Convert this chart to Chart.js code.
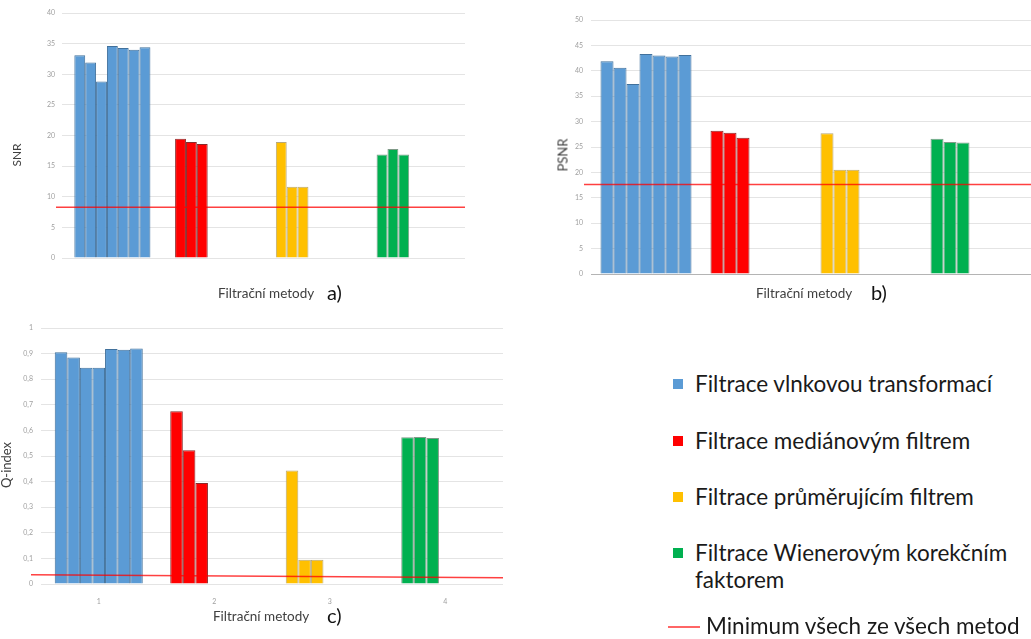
<!DOCTYPE html>
<html>
<head>
<meta charset="utf-8">
<script src="https://cdn.jsdelivr.net/npm/chart.js@4.4.1/dist/chart.umd.min.js"></script>
<style>
  body { margin: 0; background: #fff; font-family: Lato, sans-serif; }
  #page { position: relative; width: 1031px; height: 639px; overflow: hidden; }
  canvas { position: absolute; }
  .lbl { position: absolute; white-space: nowrap; color: #404040; font-size: 13px; line-height: 13px; }
  .xt { font-size: 13.5px; line-height: 14px; }
  .rot { transform: translate(-50%, -50%) rotate(-90deg); }
  .panel { position: absolute; font-size: 20px; line-height: 20px; color: #111; }
  .leg { position: absolute; left: 673px; font-size: 22.5px; line-height: 27px; color: #1a1a1a; }
  .leg i { position: absolute; left: 0; top: 9px; width: 10px; height: 10px; }
  .leg span { position: absolute; left: 22px; top: 0; width: 340px; white-space: normal; }
</style>
</head>
<body>
<div id="page">
  <canvas id="chA" width="480" height="310" style="left:0;top:0"></canvas>
  <canvas id="chB" width="511" height="310" style="left:520px;top:0"></canvas>
  <canvas id="chC" width="510" height="324" style="left:0;top:315px"></canvas>

  <div class="lbl rot" style="left:16px;top:155px;font-size:12px">SNR</div>
  <div class="lbl rot" style="left:563px;top:155px">PSNR</div>
  <div class="lbl rot" style="left:6px;top:465px">Q-index</div>

  <div class="lbl xt" style="left:218px;top:286px">Filtrační metody</div>
  <div class="lbl xt" style="left:756px;top:286px">Filtrační metody</div>
  <div class="lbl xt" style="left:213px;top:609px">Filtrační metody</div>
  <div class="panel" style="left:327px;top:282px">a)</div>
  <div class="panel" style="left:871px;top:282px">b)</div>
  <div class="panel" style="left:327px;top:605px">c)</div>

  <div id="legend"></div>
</div>
<script>
// kategorie (metody filtrace)
const categories = ['1', '2', '3', '4'];
const methods = [
  'Filtrace vlnkovou transformací',
  'Filtrace mediánovým filtrem',
  'Filtrace průměrujícím filtrem',
  'Filtrace Wienerovým korekčním faktorem'
];
const minLabel = 'Minimum všech ze všech metod';
const methodColors = ['#5b9bd5', '#ff0000', '#ffc000', '#00b050'];
const methodBorders = ['#41719c', '#8a2a2a', '#b8a878', '#7f9a88'];

// a) SNR
const snrWavelet = [33.1, 31.9, 28.8, 34.6, 34.3, 34.0, 34.4];
const snrMedian = [19.45, 18.95, 18.6];
const snrMean = [18.95, 11.65, 11.65];
const snrWiener = [16.9, 17.8, 16.9];
const snrMin = [8.3, 8.3];

// b) PSNR
const psnrWavelet = [41.9, 40.6, 37.4, 43.3, 43.0, 42.8, 43.1];
const psnrMedian = [28.2, 27.8, 26.8];
const psnrMean = [27.7, 20.5, 20.5];
const psnrWiener = [26.6, 26.0, 25.9];
const psnrMin = [17.6, 17.6];

// c) Q-index (minimum na levém a pravém okraji)
const qWavelet = [0.905, 0.885, 0.845, 0.845, 0.918, 0.915, 0.92];
const qMedian = [0.675, 0.522, 0.395];
const qMean = [0.443, 0.095, 0.095];
const qWiener = [0.573, 0.574, 0.570];
const qMin = [0.036, 0.024];

const tickFont = { family: 'Lato', size: 7 };
const tickColor = '#a0a0a0';

// cara minima přes celou šířku grafu, poloha z osy y
const minLinePlugin = {
  id: 'minLine',
  afterDatasetsDraw(chart, args, opts) {
    const vals = opts.values;
    if (!vals) return;
    const { ctx, chartArea } = chart;
    const y = chart.scales.y;
    ctx.save();
    ctx.strokeStyle = 'rgba(255,0,0,0.75)';
    ctx.lineWidth = 1.5;
    ctx.beginPath();
    ctx.moveTo(chartArea.left - opts.ext, y.getPixelForValue(vals[0]));
    ctx.lineTo(chartArea.right, y.getPixelForValue(vals[vals.length - 1]));
    ctx.stroke();
    ctx.restore();
  }
};

function makeChart(id, o) {
  const canvas = document.getElementById(id);
  const w = canvas.width, h = canvas.height;
  const groups = o.groups;
  const n = Math.max(...groups.map(g => g.length));
  const datasets = [];
  for (let i = 0; i < n; i++) {
    datasets.push({
      label: 'varianta ' + (i + 1),
      data: groups.map(g => (g[i] === undefined ? null : g[i])),
      backgroundColor: methodColors,
      borderColor: methodBorders,
      borderWidth: 1
    });
  }
  return new Chart(canvas.getContext('2d'), {
    type: 'bar',
    data: { labels: categories, datasets },
    plugins: [minLinePlugin],
    options: {
      responsive: false,
      animation: false,
      categoryPercentage: o.catPct,
      barPercentage: 1,
      layout: { padding: { left: 0, top: o.area.top, right: w - o.area.right, bottom: 0 } },
      plugins: {
        legend: { display: false },
        tooltip: { enabled: false },
        minLine: { values: o.min, ext: o.ext }
      },
      scales: {
        x: {
          grid: { display: false },
          border: { display: false },
          ticks: { display: !!o.showX, padding: 6, font: tickFont, color: tickColor, maxRotation: 0 },
          afterFit: s => { s.height = h - o.area.bottom; }
        },
        y: {
          min: 0,
          max: o.max,
          ticks: { stepSize: o.step, padding: o.tickPad, font: tickFont, color: tickColor, callback: o.fmt },
          grid: {
            drawTicks: false,
            color: c => (o.zeroLine && c.tick && c.tick.value === 0 ? '#b4b4b4' : '#e4e4e4')
          },
          border: { display: false },
          afterFit: s => { s.width = o.area.left; }
        }
      }
    }
  });
}

const intFmt = v => String(v);
const decFmt = v => String(Math.round(v * 10) / 10).replace('.', ',');

makeChart('chA', {
  groups: [snrWavelet, snrMedian, snrMean, snrWiener], min: snrMin, ext: 6,
  max: 40, step: 5, fmt: intFmt, tickPad: 7, catPct: 0.755,
  area: { left: 62, top: 13, right: 465, bottom: 258 }
});
makeChart('chB', {
  groups: [psnrWavelet, psnrMedian, psnrMean, psnrWiener], min: psnrMin, ext: 7,
  max: 50, step: 5, fmt: intFmt, tickPad: 8, catPct: 0.827, zeroLine: true,
  area: { left: 71, top: 20, right: 511, bottom: 274 }
});
makeChart('chC', {
  groups: [qWavelet, qMedian, qMean, qWiener], min: qMin, ext: 10,
  max: 1, step: 0.1, fmt: decFmt, tickPad: 8, catPct: 0.762, showX: true,
  area: { left: 41, top: 13, right: 503, bottom: 269 }
});

// legenda
const legTops = [370, 427, 483, 539, 612];
const legend = document.getElementById('legend');
methods.forEach((m, i) => {
  const d = document.createElement('div');
  d.className = 'leg';
  d.style.top = legTops[i] + 'px';
  d.innerHTML = '<i style="background:' + methodColors[i] + '"></i><span>' + m + '</span>';
  legend.appendChild(d);
});
const lm = document.createElement('div');
lm.className = 'leg';
lm.style.top = legTops[4] + 'px';
lm.style.left = '668px';
lm.innerHTML = '<i style="width:32px;height:1.5px;top:14px;background:rgba(255,0,0,0.6)"></i><span style="left:38px;width:400px;white-space:nowrap">' + minLabel + '</span>';
legend.appendChild(lm);
</script>
</body>
</html>
